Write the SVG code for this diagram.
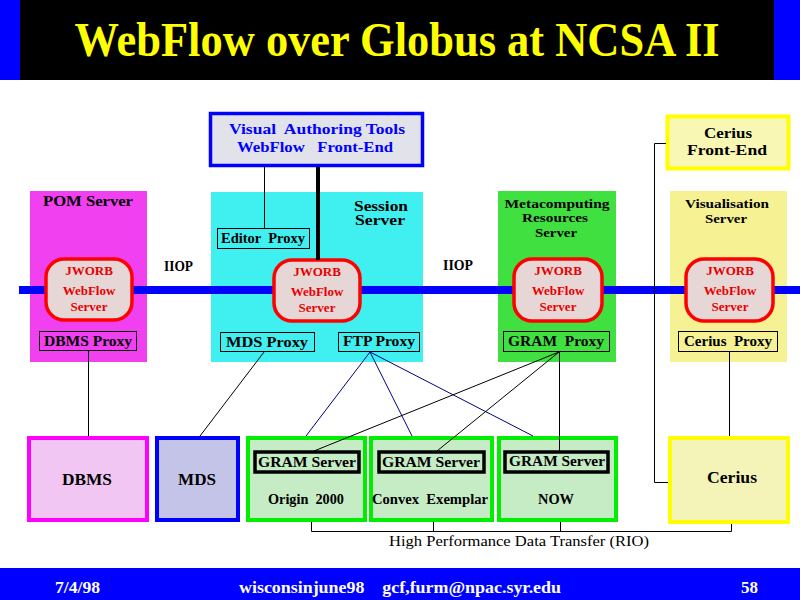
<svg xmlns="http://www.w3.org/2000/svg" width="800" height="600" viewBox="0 0 800 600">
<defs>
<style>
text{font-family:"Liberation Serif","Times New Roman",serif;font-weight:bold;white-space:pre;}
.t{font-size:14px;fill:#000;}
.s13{font-size:13px;}
.s12{font-size:12px;}
.s16{font-size:16px;}
.c{text-anchor:middle;}
.px{fill:none;stroke:#000;stroke-width:1;}
.orb{fill:#e6d6d6;stroke:#f00;stroke-width:3.5;}
.orbt{font-size:13px;fill:#e80000;text-anchor:middle;}
.bl{stroke:#000;stroke-width:1;fill:none;}
.bu{stroke:#000080;stroke-width:1;fill:none;}
.gram{fill:none;stroke:#000;stroke-width:3.5;}
.gbox{fill:#c6ecc6;stroke:#00ee00;stroke-width:4;}
.foot{font-size:16px;fill:#fff;}
.norm{font-weight:normal;font-size:15px;fill:#000;}
</style>
</defs>
<rect x="0" y="0" width="800" height="600" fill="#fff"/>
<g id="title">
<rect x="0" y="0" width="800" height="80" fill="#0000ff"/>
<rect x="20" y="0" width="754" height="80" fill="#000"/>
<text x="397" y="56" font-size="48" fill="#ffff00" text-anchor="middle" textLength="645" lengthAdjust="spacingAndGlyphs">WebFlow over Globus at NCSA II</text>
</g>
<g id="bus">
<rect x="19" y="286" width="781" height="8" fill="#0000ff"/>
</g>
<g id="pom-server">
<rect x="30" y="191" width="117" height="171" fill="#f040f0"/>
<rect x="19" y="286" width="128" height="8" fill="#0000ff"/>
<text class="t c" x="88" y="206" textLength="90" lengthAdjust="spacingAndGlyphs">POM Server</text>
<rect class="orb" x="46" y="259" width="86" height="61" rx="18"/>
<text class="orbt" x="89" y="275">JWORB</text>
<text class="orbt" x="89" y="295">WebFlow</text>
<text class="orbt" x="89" y="311">Server</text>
<rect class="px" x="39.5" y="331.5" width="97" height="19"/>
<text class="t c" x="88" y="346" textLength="88" lengthAdjust="spacingAndGlyphs">DBMS Proxy</text>
</g>
<g id="session-server">
<rect x="211" y="192" width="212" height="170" fill="#40f0f0"/>
<rect x="211" y="286" width="212" height="8" fill="#0000ff"/>
<text class="t c" x="381" y="211" textLength="54" lengthAdjust="spacingAndGlyphs">Session</text>
<text class="t c" x="380" y="225" textLength="50" lengthAdjust="spacingAndGlyphs">Server</text>
<rect class="px" x="217.5" y="228.5" width="92" height="20"/>
<text class="t c" x="263" y="243" textLength="84" lengthAdjust="spacingAndGlyphs">Editor  Proxy</text>
<rect class="orb" x="274" y="260" width="86" height="61" rx="18"/>
<text class="orbt" x="317" y="276">JWORB</text>
<text class="orbt" x="317" y="296">WebFlow</text>
<text class="orbt" x="317" y="312">Server</text>
<rect class="px" x="220.5" y="332.5" width="94" height="19"/>
<text class="t c" x="267" y="347" textLength="82" lengthAdjust="spacingAndGlyphs">MDS Proxy</text>
<rect class="px" x="338.5" y="332.5" width="81" height="19"/>
<text class="t c" x="379" y="346" textLength="72" lengthAdjust="spacingAndGlyphs">FTP Proxy</text>
</g>
<g id="meta-server">
<rect x="498" y="191" width="118" height="171" fill="#40e040"/>
<rect x="498" y="286" width="118" height="8" fill="#0000ff"/>
<text class="t s12 c" x="557" y="208" textLength="105" lengthAdjust="spacingAndGlyphs">Metacomputing</text>
<text class="t s12 c" x="555" y="222" textLength="66" lengthAdjust="spacingAndGlyphs">Resources</text>
<text class="t s12 c" x="556" y="237" textLength="42" lengthAdjust="spacingAndGlyphs">Server</text>
<rect class="orb" x="514" y="259" width="88" height="62" rx="18"/>
<text class="orbt" x="558" y="275">JWORB</text>
<text class="orbt" x="558" y="295">WebFlow</text>
<text class="orbt" x="558" y="311">Server</text>
<rect class="px" x="503.5" y="331.5" width="106" height="20"/>
<text class="t c" x="556" y="346" textLength="96" lengthAdjust="spacingAndGlyphs">GRAM  Proxy</text>
</g>
<g id="vis-server">
<rect x="670" y="191" width="117" height="171" fill="#f6f294"/>
<rect x="670" y="286" width="130" height="8" fill="#0000ff"/>
<text class="t s12 c" x="727" y="208" textLength="84" lengthAdjust="spacingAndGlyphs">Visualisation</text>
<text class="t s12 c" x="726" y="223" textLength="42" lengthAdjust="spacingAndGlyphs">Server</text>
<rect class="orb" x="686" y="259" width="87" height="62" rx="18"/>
<text class="orbt" x="730" y="275">JWORB</text>
<text class="orbt" x="730" y="295">WebFlow</text>
<text class="orbt" x="730" y="311">Server</text>
<rect class="px" x="678.5" y="331.5" width="99" height="20"/>
<text class="t c" x="728" y="346" textLength="88" lengthAdjust="spacingAndGlyphs">Cerius  Proxy</text>
</g>
<g id="vat">
<rect x="210.5" y="113.5" width="212" height="52" fill="#e2e2ea" stroke="#0000ff" stroke-width="3.5"/>
<text x="317" y="134" font-size="14" fill="#0000ff" text-anchor="middle" textLength="176" lengthAdjust="spacingAndGlyphs">Visual  Authoring Tools</text>
<text x="315" y="152" font-size="14" fill="#0000ff" text-anchor="middle" textLength="156" lengthAdjust="spacingAndGlyphs">WebFlow   Front-End</text>
</g>
<g id="cerius-fe">
<rect x="667.5" y="116.5" width="121" height="52" fill="#f8f8b4" stroke="#ffff00" stroke-width="4"/>
<text class="t c" x="728" y="138" textLength="48" lengthAdjust="spacingAndGlyphs">Cerius</text>
<text class="t c" x="727" y="155" textLength="80" lengthAdjust="spacingAndGlyphs">Front-End</text>
</g>
<g id="iiop">
<text class="t" x="164" y="271" textLength="29" lengthAdjust="spacingAndGlyphs">IIOP</text>
<text class="t" x="443" y="270" textLength="30" lengthAdjust="spacingAndGlyphs">IIOP</text>
</g>
<g id="dbms">
<rect x="29" y="438" width="118" height="82" fill="#f2c6f2" stroke="#ff00ff" stroke-width="4"/>
<text class="t s16 c" x="87" y="485" textLength="50" lengthAdjust="spacingAndGlyphs">DBMS</text>
</g>
<g id="mds">
<rect x="157" y="438" width="81" height="82" fill="#c4c4e8" stroke="#0000ff" stroke-width="4"/>
<text class="t s16 c" x="197" y="485" textLength="38" lengthAdjust="spacingAndGlyphs">MDS</text>
</g>
<g id="origin">
<rect class="gbox" x="248" y="438" width="117" height="82"/>
<rect class="gram" x="255" y="452" width="104" height="20"/>
<text class="t c" x="307" y="467" textLength="98" lengthAdjust="spacingAndGlyphs">GRAM Server</text>
<text class="t c" x="306" y="504" textLength="76" lengthAdjust="spacingAndGlyphs">Origin  2000</text>
</g>
<g id="convex">
<rect class="gbox" x="371" y="438" width="121" height="82"/>
<rect class="gram" x="379" y="452" width="105" height="20"/>
<text class="t c" x="431" y="467" textLength="98" lengthAdjust="spacingAndGlyphs">GRAM Server</text>
<text class="t c" x="430" y="504" textLength="116" lengthAdjust="spacingAndGlyphs">Convex  Exemplar</text>
</g>
<g id="now">
<rect class="gbox" x="499" y="438" width="117" height="82"/>
<rect class="gram" x="505" y="452" width="103" height="20"/>
<text class="t c" x="557" y="466" textLength="96" lengthAdjust="spacingAndGlyphs">GRAM Server</text>
<text class="t c" x="556" y="504" textLength="36" lengthAdjust="spacingAndGlyphs">NOW</text>
</g>
<g id="cerius">
<rect x="670" y="438" width="118" height="84" fill="#f4f4b8" stroke="#ffff00" stroke-width="4"/>
<text class="t s16 c" x="732" y="483" textLength="50" lengthAdjust="spacingAndGlyphs">Cerius</text>
</g>
<g id="connectors">
<line x1="264.5" y1="167" x2="264.5" y2="228" class="bl"/>
<line x1="318" y1="167" x2="318" y2="260" stroke="#000" stroke-width="4"/>
<polyline points="666,143.5 654.5,143.5 654.5,482.5 668,482.5" class="bl"/>
<line x1="88.5" y1="351" x2="88.5" y2="436" class="bl"/>
<line x1="264" y1="352" x2="200" y2="436" class="bl"/>
<line x1="370" y1="352" x2="306" y2="436" class="bu"/>
<line x1="370" y1="352" x2="412" y2="436" class="bu"/>
<line x1="370" y1="352" x2="533" y2="436" class="bu"/>
<line x1="559" y1="352" x2="314" y2="451" class="bl"/>
<line x1="559" y1="352" x2="437" y2="451" class="bl"/>
<line x1="559.5" y1="352" x2="559.5" y2="451" class="bl"/>
<line x1="729.5" y1="352" x2="729.5" y2="436" class="bl"/>
<polyline points="311.5,522 311.5,531.5 731.5,531.5 731.5,524" class="bl"/>
<line x1="433.5" y1="522" x2="433.5" y2="531" class="bl"/>
<line x1="560.5" y1="522" x2="560.5" y2="531" class="bl"/>
<text class="norm" x="519" y="546" text-anchor="middle" textLength="260" lengthAdjust="spacingAndGlyphs">High Performance Data Transfer (RIO)</text>
</g>
<g id="footer">
<rect x="0" y="568" width="800" height="32" fill="#0000ff"/>
<text class="foot" x="55" y="593" textLength="45" lengthAdjust="spacingAndGlyphs">7/4/98</text>
<text class="foot" x="239" y="593" textLength="322" lengthAdjust="spacingAndGlyphs">wisconsinjune98    gcf,furm@npac.syr.edu</text>
<text class="foot" x="741" y="593" textLength="17" lengthAdjust="spacingAndGlyphs">58</text>
</g>
</svg>
